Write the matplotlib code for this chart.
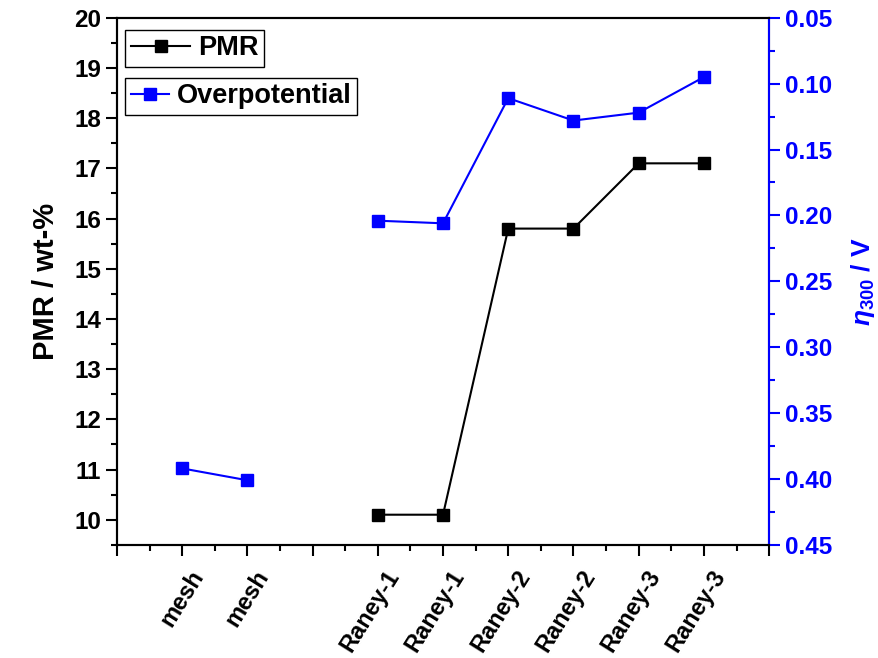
import numpy as np
import matplotlib
matplotlib.use("Agg")
import matplotlib.pyplot as plt
import matplotlib.transforms as mtrans

plt.rcParams['font.family'] = ['Liberation Sans', 'DejaVu Sans']
plt.rcParams['font.weight'] = 'bold'
plt.rcParams['mathtext.fontset'] = 'custom'
plt.rcParams['mathtext.rm'] = 'Liberation Sans:bold'
plt.rcParams['mathtext.it'] = 'Liberation Sans:italic:bold'
plt.rcParams['mathtext.bf'] = 'Liberation Sans:bold'

# data
labels = ["mesh", "mesh", "Raney-1", "Raney-1", "Raney-2", "Raney-2", "Raney-3", "Raney-3"]
pos = [1, 2, 4, 5, 6, 7, 8, 9]
pmr_pos = [4, 5, 6, 7, 8, 9]
pmr = [10.1, 10.1, 15.8, 15.8, 17.1, 17.1]
eta_mesh = [0.392, 0.401]
eta_raney = [0.204, 0.206, 0.111, 0.128, 0.122, 0.095]

fig = plt.figure(figsize=(8.79, 6.58), dpi=100)
ax = fig.add_axes([0.133, 0.172, 0.742, 0.801])
ax2 = ax.twinx()

l1, = ax.plot(pmr_pos, pmr, "s-", color="black", lw=1.5, ms=8.5, label="PMR")
l2, = ax2.plot(pos[:2], eta_mesh, "s-", color="blue", lw=1.5, ms=8.5, label="Overpotential")
ax2.plot(pos[2:], eta_raney, "s-", color="blue", lw=1.5, ms=8.5)

ax.set_xlim(0, 10)
ax.set_ylim(9.5, 20)
ax2.set_ylim(0.45, 0.05)

ax.set_xticks(range(0, 11))
ax.set_xticks(np.arange(0.5, 10, 1), minor=True)
ax.set_xticklabels([""] * 11)
ax.set_yticks(range(10, 21))
ax.set_yticks(np.arange(9.5, 20, 0.5), minor=True)
ax2.set_yticks(np.arange(0.05, 0.451, 0.05))
ax2.set_yticks(np.arange(0.075, 0.45, 0.05), minor=True)
ax2.set_yticklabels(["%.2f" % v for v in np.arange(0.05, 0.451, 0.05)])

ax.tick_params(axis="both", which="major", direction="out", length=8, width=1.5, labelsize=17.5)
ax.tick_params(axis="both", which="minor", direction="out", length=4.5, width=1.5)
ax2.tick_params(axis="y", which="major", direction="out", length=8, width=1.5, labelsize=17.5,
                colors="blue")
ax2.tick_params(axis="y", which="minor", direction="out", length=4.5, width=1.5, colors="blue")

for s in ax.spines.values():
    s.set_linewidth(1.5)
for s in ax2.spines.values():
    s.set_linewidth(1.5)
ax2.spines["right"].set_color("blue")

# rotated category labels
off = mtrans.ScaledTranslation(7 / 100, -21 / 100, fig.dpi_scale_trans)
for p, lab in zip(pos, labels):
    ax.text(p, 0, lab, transform=ax.get_xaxis_transform() + off, rotation=58,
            ha="right", va="top", rotation_mode="anchor", fontsize=17, fontweight="bold")

ax.set_ylabel("PMR / wt-%", fontsize=21, fontweight="bold", labelpad=10)
ax2.set_ylabel(r"$\eta_{300}$ / V", fontsize=19, fontweight="bold", color="blue", labelpad=12)

leg1 = ax2.legend(handles=[l1], loc="upper left", bbox_to_anchor=(0.013, 0.977), fontsize=19.5,
                  handlelength=2.2, borderpad=0.2, handletextpad=0.3, fancybox=False,
                  edgecolor="black", framealpha=1, borderaxespad=0)
leg1.get_frame().set_linewidth(1.0)
ax2.add_artist(leg1)
leg2 = ax2.legend(handles=[l2], loc="upper left", bbox_to_anchor=(0.013, 0.886), fontsize=19.5,
                  handlelength=1.4, borderpad=0.2, handletextpad=0.3, fancybox=False,
                  edgecolor="black", framealpha=1, borderaxespad=0)
leg2.get_frame().set_linewidth(1.0)

fig.savefig("out.png", dpi=100)
